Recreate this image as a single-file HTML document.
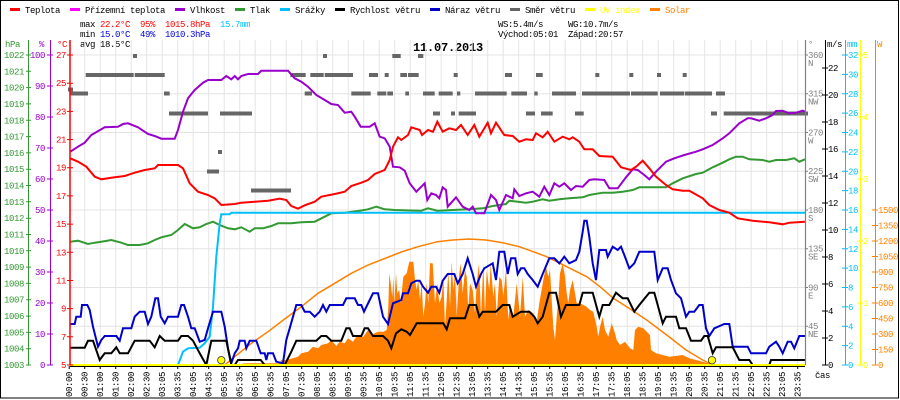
<!DOCTYPE html>
<html>
<head>
<meta charset="utf-8">
<style>
html,body{margin:0;padding:0;background:#fff;}
svg{display:block;}
text{font-family:"Liberation Mono","DejaVu Sans Mono",monospace;font-size:9px;letter-spacing:-0.4px;}
.t{font-family:"Liberation Mono","DejaVu Sans Mono",monospace;font-size:12px;font-weight:bold;letter-spacing:-0.2px;}
</style>
</head>
<body>
<svg width="900" height="400" viewBox="0 0 900 400" xmlns="http://www.w3.org/2000/svg">
<rect x="0" y="0" width="900" height="400" fill="#fff"/>
<rect x="0.5" y="0.5" width="898" height="397.5" fill="none" stroke="#000" stroke-width="1"/>

<!-- Legend -->
<g>
<rect x="10" y="8" width="10" height="3" fill="#ff0000"/><text x="25" y="13">Teplota</text>
<rect x="70" y="8" width="10" height="3" fill="#ff00ff"/><text x="85" y="13">Přízemní teplota</text>
<rect x="175" y="8" width="10" height="3" fill="#9900cc"/><text x="190" y="13">Vlhkost</text>
<rect x="235" y="8" width="10" height="3" fill="#339933"/><text x="250" y="13">Tlak</text>
<rect x="280" y="8" width="10" height="3" fill="#00bfff"/><text x="295" y="13">Srážky</text>
<rect x="335" y="8" width="10" height="3" fill="#000"/><text x="350" y="13">Rychlost větru</text>
<rect x="430" y="8" width="10" height="3" fill="#0000cc"/><text x="445" y="13">Náraz větru</text>
<rect x="510" y="8" width="10" height="3" fill="#666"/><text x="525" y="13">Směr větru</text>
<rect x="585" y="8" width="10" height="3" fill="#ffff00"/><text x="600" y="13" fill="#ffff00">UV index</text>
<rect x="650" y="8" width="10" height="3" fill="#ff8000"/><text x="665" y="13" fill="#ff8000">Solar</text>
</g>

<!-- Stats -->
<text x="80" y="27">max</text>
<text x="100" y="27" fill="#ff0000">22.2°C</text>
<text x="140" y="27" fill="#ff0000">95%</text>
<text x="165" y="27" fill="#ff0000">1015.8hPa</text>
<text x="220" y="27" fill="#00bfff">15.7mm</text>
<text x="80" y="37">min</text>
<text x="100" y="37" fill="#0000dd">15.0°C</text>
<text x="140" y="37" fill="#0000dd">49%</text>
<text x="165" y="37" fill="#0000dd">1010.3hPa</text>
<text x="80" y="47">avg</text>
<text x="100" y="47">18.5°C</text>
<text x="498" y="27">WS:5.4m/s</text>
<text x="568" y="27">WG:10.7m/s</text>
<text x="498" y="37">Východ:05:01</text>
<text x="568" y="37">Západ:20:57</text>
<text class="t" x="413" y="51">11.07.2013</text>

<!-- Grid -->
<path d="M84.7 40V365M100.2 40V365M115.7 40V365M131.2 40V365M146.7 40V365M162.2 40V365M177.7 40V365M193.2 40V365M208.7 40V365M224.2 40V365M239.7 40V365M255.2 40V365M270.7 40V365M286.2 40V365M301.7 40V365M317.2 40V365M332.7 40V365M348.2 40V365M363.7 40V365M379.2 40V365M394.7 40V365M410.2 40V365M425.7 40V365M441.2 40V365M456.7 40V365M472.2 40V365M487.7 40V365M503.2 40V365M518.7 40V365M534.2 40V365M549.7 40V365M565.2 40V365M580.7 40V365M596.2 40V365M611.7 40V365M627.2 40V365M642.7 40V365M658.2 40V365M673.7 40V365M689.2 40V365M704.7 40V365M720.2 40V365M735.7 40V365M751.2 40V365M766.7 40V365M782.2 40V365M797.7 40V365" stroke="#e4e4e4" stroke-width="1" fill="none"/>
<path d="M70 55H805M70 93.75H805M70 132.5H805M70 171.25H805M70 210H805M70 248.75H805M70 287.5H805M70 326.25H805" stroke="#e4e4e4" stroke-width="1" fill="none"/>

<!-- Wind direction blocks -->
<g fill="#666">
<rect x="133" y="54" width="4" height="4"/><rect x="323" y="54" width="4" height="4"/><rect x="392.3" y="54" width="8.4" height="4"/><rect x="418" y="54" width="5.3" height="4"/>
<rect x="85.7" y="73" width="48" height="4"/><rect x="134.7" y="73" width="30" height="4"/><rect x="290.3" y="73" width="15.4" height="4"/><rect x="310.3" y="73" width="13.4" height="4"/><rect x="324.7" y="73" width="28.3" height="4"/><rect x="369" y="73" width="9" height="4"/><rect x="384.7" y="73" width="4" height="4"/><rect x="400.3" y="73" width="6.7" height="4"/><rect x="408" y="73" width="10.7" height="4"/><rect x="453.7" y="73" width="4" height="4"/><rect x="505" y="73" width="7" height="4"/><rect x="536" y="73" width="6.7" height="4"/><rect x="595.3" y="73" width="4" height="4"/><rect x="629.3" y="73" width="4" height="4"/><rect x="657" y="73" width="4" height="4"/><rect x="682.7" y="73" width="4" height="4"/>
<rect x="68" y="87.5" width="5" height="4"/>
<rect x="70.3" y="91.5" width="17.7" height="4"/><rect x="164" y="91.5" width="5.7" height="4"/><rect x="304.7" y="91.5" width="7.3" height="4"/><rect x="351.3" y="91.5" width="19.4" height="4"/><rect x="377.3" y="91.5" width="9" height="4"/><rect x="387.3" y="91.5" width="5.7" height="4"/><rect x="405.3" y="91.5" width="3.7" height="4"/><rect x="423" y="91.5" width="11.7" height="4"/><rect x="438.7" y="91.5" width="14" height="4"/><rect x="457" y="91.5" width="3.3" height="4"/><rect x="475" y="91.5" width="31.7" height="4"/><rect x="511.3" y="91.5" width="15.7" height="4"/><rect x="534.3" y="91.5" width="3.4" height="4"/><rect x="552" y="91.5" width="24" height="4"/><rect x="582" y="91.5" width="48" height="4"/><rect x="631" y="91.5" width="26.7" height="4"/><rect x="660" y="91.5" width="24.3" height="4"/><rect x="685" y="91.5" width="27" height="4"/><rect x="716" y="91.5" width="9" height="4"/>
<rect x="169" y="111.5" width="39" height="4"/><rect x="220" y="111.5" width="32" height="4"/><rect x="433" y="111.5" width="7" height="4"/><rect x="451" y="111.5" width="4" height="4"/><rect x="458.7" y="111.5" width="17.3" height="4"/><rect x="526" y="111.5" width="9" height="4"/><rect x="541" y="111.5" width="11.7" height="4"/><rect x="575" y="111.5" width="8.7" height="4"/><rect x="711" y="111.5" width="6" height="4"/><rect x="723.7" y="111.5" width="84.3" height="4"/>
<rect x="218" y="150" width="4" height="4"/>
<rect x="207" y="169.5" width="12" height="4"/>
<rect x="251" y="188.5" width="40" height="4"/>
</g>

<!-- Solar area -->
<path fill="#ff8000" d="M236,365 L244.7,363.3 280,363.3 281,360 286.3,360 298,356.7 301.3,353.3 308,351.7 313,346.7 318,348.3 321.3,345 328,343.3 331.3,340 336.3,346 339.7,341.7 344.7,343.3 348,338.3 353,341.7 356.3,336.7 359.7,335 363,337.3 368,330 373,334 378,331.7 383.3,331.7 386.7,330 388.3,306.7 389.3,273.3 390.7,283.3 392.3,296.7 393.3,276.7 394.3,303.3 396,273.3 397.3,293.3 399.3,290 400.7,303.3 403.3,276.7 406.7,273.3 409.3,261.7 413.3,261.7 415,280 416.7,290 418.3,280 420,300 421.7,283.3 423.3,316.7 425,303.3 426.7,283.3 428.3,303.3 430,263.3 432.7,263.3 435,303.3 437.3,283.3 439.3,303.3 441.7,296.7 443.3,276.7 445,326.7 446.7,300 448.3,270 450,306.7 451.7,261.7 453.3,290 455,273.3 456.7,316.7 459.3,273.3 460.7,263.3 462.7,293.3 465,270 466.7,276.7 468.3,310 470,283.3 472.7,290 475,313.3 476.7,283.3 479,263.3 481,316.7 483.3,263.3 485,313.3 486.7,270 489.3,290 490.7,263.3 493.3,296.7 495,283.3 496.7,316.7 499.3,276.7 501.7,280 503.3,296.7 506,270 508.3,320 510,303.3 513.3,316.7 516.7,283.3 520,316.7 522.7,276.7 525,316.7 528.3,310 533.3,313.3 536.7,321.7 539.3,303.3 543.3,280 546,266.7 548.3,276.7 550,270 551.7,300 553.3,326.7 555,340 556.7,316.7 558.3,300 560,273.3 562.7,263.3 565,276.7 566.7,293.3 568.3,303.3 570,290 572.7,280 575,293.3 576.7,303.3 580,303.3 586.7,306.7 590,310 593.3,311.7 596.7,326.7 598.3,336.7 600,326.7 602.7,316.7 605,330 608.3,336.7 611.7,323.3 615,333.3 616.7,340 620,345 625,341.7 630,348.3 633.3,350 635,330 638.3,326.7 643.3,328.3 646.7,331.7 650,335 651,350 656,353.3 669.3,356.7 682.7,355 689.3,358.3 702.7,361.7 712.7,365 Z"/>

<!-- Theoretical solar -->
<polyline fill="none" stroke="#ff8000" stroke-width="1.5" points="224.7,365 234.7,356.7 251.3,343.3 268,331.7 284.7,319 301.3,306.7 318,293.3 334.7,283.3 351.3,273.3 368,265 384.7,258.5 401.3,252 418,246.7 437.3,241.7 452.7,240 469.3,239 486,240 502.7,242.7 519.3,246.7 536,252.7 546.7,256.7 566.7,266.7 586.7,276.7 600,286.7 613.3,298.3 626.7,306.7 646.7,320 669.3,337 686,350 702.7,360 712.7,365"/>

<!-- Pressure -->
<polyline fill="none" stroke="#339933" stroke-width="2" points="70.3,241.7 78,240.7 88,244 94.7,242.7 101.3,241.7 111.3,240 121.3,242.7 128,245 139.7,245 148,243.3 154.7,240 161.3,237.3 171.3,235 178,230 184.7,224 193,228.3 199.7,227.3 206.3,224 213,221.7 219.7,225 228,228.3 234.7,229.3 241.3,227.3 249.7,231.7 254.7,228.3 263,228.3 271.3,226 278,223.3 291.3,223.3 301.3,222.3 314.7,221.7 324.7,216.7 331.3,213.3 344.7,212.7 358,211 368,209.3 376.3,206.7 384.7,209.3 394.7,210 421.3,210.7 428,208.3 437.3,210.7 452.7,210 469.3,209.3 482.7,208.3 492.7,206 506,204 509.3,200.7 526,202.7 532.7,201.7 542.7,199.3 549.3,200.7 559.3,199.3 569.3,198.3 582.7,197.3 589.3,195 602.7,192.7 612.7,192.7 622.7,191.7 632.7,190 639.3,187.3 666,187.3 672.7,183.3 682.7,178.3 696,174 702.7,172.7 712.7,167.3 722.7,162.7 729.3,159.3 736,156.7 742.7,156.7 749.3,159.3 762.7,160 769.3,161.7 776,160 786,160 794.3,158.3 799.3,161.7 805,159.3"/>

<!-- Rain -->
<polyline fill="none" stroke="#00bfff" stroke-width="2" points="178,365 183,351.7 188,348.3 199.7,347.7 204.7,343.3 209.7,336.7 213,306.7 216.3,256.7 219.7,223.3 221.3,214.3 229.7,214.3 231.3,212.7 805,212.7"/>

<!-- Humidity -->
<polyline fill="none" stroke="#9900cc" stroke-width="2" points="70.3,151.7 78,146.7 84.7,142.7 91.3,135 104.7,127.3 118,126.7 123,124 128,123.3 138,127.3 148,134 154.7,136 161.3,138.7 174.7,138.7 178,130 183,111.7 188,98.3 194.7,90 203,82.7 208,80 221.3,80 226.3,76 231.3,79.3 234.7,76 238,79.3 241.3,76 248,74 258,74 261.3,70.7 288,70.7 294.7,78.3 301.3,81.7 308,86.7 316.3,95 324.7,100 331.3,104 338,105 344.7,112.7 351.3,111.7 354.7,116.7 360.7,126.7 369.7,126.7 374.7,123.3 379.7,136.7 384.7,138.3 389.7,146.7 393,166.7 399.7,167.3 404.7,170.7 409.7,183.3 416.3,191.7 421.3,186.7 424.7,183.3 427.3,200 431.3,193.3 436,195 439.3,198.3 442.7,187.3 446,190 447.7,206.7 456,197.3 462.7,206.7 469.3,210 472.7,206.7 476,213.3 484.3,213.3 491,195 496,200 499.3,210 506,195 512.7,198.3 514.3,189.3 519.3,196 526,193.3 532.7,191.7 539.3,196.7 544.3,186.7 549.3,195 554.3,183.3 559.3,186.7 564.3,183.3 571,190 576,186 582.7,186.7 589.3,180 594.3,179.3 604.3,180 609.3,188.3 617.7,188.3 626,177.3 632.7,169.3 637.7,170 644.3,175 649.3,179.3 656,171.7 666,161.7 674.3,158.3 684.3,155 696,151.7 702.7,149.3 712.7,145 722.7,138.3 729.3,133.3 739.3,123.3 747.7,118.3 751,118.3 759.3,120.7 766,118.3 772.7,115 776,111 782.7,110.7 789.3,113.3 796,112.7 802.7,110.7 805,111.7"/>

<!-- Temperature -->
<polyline fill="none" stroke="#ff0000" stroke-width="2" points="70.3,158.3 78,161.7 86.3,166.7 94.7,176.7 101.3,179.3 114.7,177.3 124.7,176 134.7,172.7 144.7,170 154.7,168.3 158,165 178,165 183,168.3 189.7,183.3 198,191.7 208,195 214.7,198.3 221.3,205 234.7,204 241.3,202.7 254.7,201.7 268,200.7 279.7,198.7 286.3,200 291.3,206 298,208.7 304.7,205.3 314.7,201.7 321.3,196.7 334.7,194 344.7,191.7 351.3,186 361.3,182.7 368,180 374.7,174 384.7,170 389.7,160 393,146.7 398,137.3 401.3,140 408,135 411.3,127.3 419.7,130 422,135 428,130 433,131.7 437.3,121.7 442.7,131.7 449.3,128.3 456,130 461,125 467.7,135 474.3,125 479.3,136.7 487.7,122.7 491,133.3 496,122.7 504.3,135 512.7,136 519.3,141.7 526,139.3 532.7,140 536,133.3 542.7,137.3 547.7,131.7 554.3,141.7 562.7,136.7 569.3,139.3 572.7,137.3 579.3,141.7 584.3,149.3 592.7,149.3 599.3,156 612.7,156.7 621,167.3 631,170 636,166.7 642.7,160.7 649.3,168.3 656,176.7 666,185 672.7,189.3 682.7,190.7 689.3,190.7 702.7,198.3 709.3,205 719.3,210 729.3,212.7 737.7,218.3 752.7,220.7 769.3,222.3 782.7,224.3 789.3,222.7 805,221.7"/>

<!-- Wind gust -->
<polyline fill="none" stroke="#0000cc" stroke-width="2" points="70.3,324 74.7,324 76.3,316.7 80.7,316.7 82,305 87.3,305 89.7,310 93,326.7 98,346.7 101.3,340 104.7,336 116.3,336 119.7,340.7 123,328.3 131.3,328.3 134.7,316.7 139.7,311.7 144.7,311.7 148,324 151.3,316.7 155.3,298.3 158,298.3 160.7,316.7 164.7,323.3 168,316.7 178,316.7 181.3,305 184,305 188,316.7 191.3,328.3 194.7,328.3 199.7,341.7 204.7,340 208,328.3 213,311.7 221.3,311.7 224.7,326.7 228,348.3 231.3,363.3 234.7,353.3 238,348.3 239.7,340.7 244.7,340.7 246.3,348.3 249.7,340.7 256.3,340.7 260.7,353.3 264.7,353.3 266.3,360 268,353.3 273,353.3 276.3,361.7 283,363.3 286.3,340 289.7,328.3 296.3,305 301.3,305 304.7,311.7 309.7,311.7 314.7,316.7 319.7,311.7 323,305 326.3,311.7 329.7,305 343,305 346.3,298.3 354.7,298.3 358,305 361.3,305 364,311.7 369.7,300 373,293.3 378,293.3 383,316.7 388,324 393,303.3 401.3,300 403,293.3 408,293.3 411.3,283.3 416.3,280.7 419.7,280.7 423,286.7 428,292.7 431.3,286.7 436,286.7 439.3,292.7 442.7,280.7 447.7,274 454.3,274 457.7,283.3 462.7,274 467.7,258.3 472.7,274 476,286.7 481,274 484.3,268.3 492.7,263.3 496,280 499.3,251.7 504.3,251.7 507.7,274 511,258.3 515.3,258.3 517.7,274 521,268.3 524.3,268.3 527.7,274 532.7,280 537.7,286.7 542.7,274 549.3,258.3 554.3,258.3 559.3,263.3 564.3,256.7 569.3,263.3 576,260 579.3,251.7 582.7,231.7 584.3,220.7 586.7,220.7 589.3,236.7 592.7,263.3 596,280 599.3,250 606,250 607.7,256.7 612.7,246.7 617.7,250 621,246.7 624.3,255 629.3,268.3 634.3,263.3 639.3,251.7 654.3,251.7 657.7,280 662.7,268.3 667.7,268.3 671,280 676,293.3 681,298.3 686,316.7 689.3,311.7 694.3,311.7 699.3,305 702.7,305 706,328.3 709.3,336 714.3,328.3 724.3,324 729.3,324 732.7,346.7 747.7,346.7 751,353.3 766,353.3 769.3,346.7 776,341.7 779.3,346.7 782.7,353.3 787.7,341.7 791,341.7 794.3,348.3 799.3,336 805,336"/>

<!-- Wind speed -->
<polyline fill="none" stroke="#000" stroke-width="2" points="70.3,347.7 84.7,347.7 88,340.7 93,340.7 99.7,360 104.7,353.3 111.3,353.3 116.3,347.3 119.7,353.3 128,353.3 134.7,340.7 149.7,340.7 154.7,347.3 159.7,336 164.7,340.7 178,340.7 181.3,336 188,336 193,340.7 199.7,353.3 206.3,365 211.3,340.7 226.3,340.7 231.3,365 234.7,365 238,360 260.7,360 264.7,365 284.7,365 291.3,351.7 296.3,340.7 316.3,340.7 321.3,336 326.3,336 331.3,340.7 341.3,340.7 346.3,328.3 349.7,328.3 353,336 361.3,336 364.7,328.3 368,328.3 373,336 383,336 388,340.7 391.3,348.3 396,333.3 401.3,329.3 406.7,331.7 410,335 413.3,329.3 416.7,323.3 436,323.3 443.3,323.3 446.7,329.3 450,318.3 465,318.3 469.3,305 476,305 479.3,316.7 482.7,311.7 496,311.7 502.7,305 509.3,305 512.7,316.7 521,311.7 529.3,311.7 534.3,316.7 537.7,323.3 542.7,316.7 549.3,292.7 556,292.7 561,316.7 566,305 579.3,305 582.7,292.7 592.7,292.7 599.3,316.7 602.7,305 609.3,305 616,292.7 622.7,298.3 627.7,298.3 634.3,311.7 639.3,305 649.3,292.7 654.3,292.7 657.7,305 662.7,323.3 666,316.7 676,316.7 679.3,328.3 686,328.3 691,340.7 701,340.7 704.3,336 707.7,336 712.7,353.3 716,347.3 732.7,347.3 739.3,360 749.3,360 752.7,365 769.3,365 771,360 805,360"/>

<!-- UV baseline / x axis -->
<line x1="70" y1="366.5" x2="805" y2="366.5" stroke="#000" stroke-width="1"/>
<line x1="70" y1="365" x2="805" y2="365" stroke="#ffff00" stroke-width="2"/>
<circle cx="221.3" cy="360.2" r="3.7" fill="#ffff00" stroke="#333" stroke-width="0.8"/>
<circle cx="712" cy="360.2" r="3.7" fill="#ffff00" stroke="#333" stroke-width="0.8"/>

<!-- x ticks -->
<path d="M69.2 366V369M84.7 366V369M100.2 366V369M115.7 366V369M131.2 366V369M146.7 366V369M162.2 366V369M177.7 366V369M193.2 366V369M208.7 366V369M224.2 366V369M239.7 366V369M255.2 366V369M270.7 366V369M286.2 366V369M301.7 366V369M317.2 366V369M332.7 366V369M348.2 366V369M363.7 366V369M379.2 366V369M394.7 366V369M410.2 366V369M425.7 366V369M441.2 366V369M456.7 366V369M472.2 366V369M487.7 366V369M503.2 366V369M518.7 366V369M534.2 366V369M549.7 366V369M565.2 366V369M580.7 366V369M596.2 366V369M611.7 366V369M627.2 366V369M642.7 366V369M658.2 366V369M673.7 366V369M689.2 366V369M704.7 366V369M720.2 366V369M735.7 366V369M751.2 366V369M766.7 366V369M782.2 366V369M797.7 366V369" stroke="#000" stroke-width="1"/>

<!-- x labels -->
<g>
<text transform="translate(72.2,397) rotate(-90)">00:00</text>
<text transform="translate(87.7,397) rotate(-90)">00:30</text>
<text transform="translate(103.2,397) rotate(-90)">01:00</text>
<text transform="translate(118.7,397) rotate(-90)">01:30</text>
<text transform="translate(134.2,397) rotate(-90)">02:00</text>
<text transform="translate(149.7,397) rotate(-90)">02:30</text>
<text transform="translate(165.2,397) rotate(-90)">03:05</text>
<text transform="translate(180.7,397) rotate(-90)">03:35</text>
<text transform="translate(196.2,397) rotate(-90)">04:05</text>
<text transform="translate(211.7,397) rotate(-90)">04:35</text>
<text transform="translate(227.2,397) rotate(-90)">05:05</text>
<text transform="translate(242.7,397) rotate(-90)">05:35</text>
<text transform="translate(258.2,397) rotate(-90)">06:05</text>
<text transform="translate(273.7,397) rotate(-90)">06:35</text>
<text transform="translate(289.2,397) rotate(-90)">07:05</text>
<text transform="translate(304.7,397) rotate(-90)">07:35</text>
<text transform="translate(320.2,397) rotate(-90)">08:05</text>
<text transform="translate(335.7,397) rotate(-90)">08:35</text>
<text transform="translate(351.2,397) rotate(-90)">09:05</text>
<text transform="translate(366.7,397) rotate(-90)">09:35</text>
<text transform="translate(382.2,397) rotate(-90)">10:05</text>
<text transform="translate(397.7,397) rotate(-90)">10:35</text>
<text transform="translate(413.2,397) rotate(-90)">11:05</text>
<text transform="translate(428.7,397) rotate(-90)">11:35</text>
<text transform="translate(444.2,397) rotate(-90)">12:05</text>
<text transform="translate(459.7,397) rotate(-90)">12:35</text>
<text transform="translate(475.2,397) rotate(-90)">13:05</text>
<text transform="translate(490.7,397) rotate(-90)">13:35</text>
<text transform="translate(506.2,397) rotate(-90)">14:05</text>
<text transform="translate(521.7,397) rotate(-90)">14:35</text>
<text transform="translate(537.2,397) rotate(-90)">15:05</text>
<text transform="translate(552.7,397) rotate(-90)">15:35</text>
<text transform="translate(568.2,397) rotate(-90)">16:05</text>
<text transform="translate(583.7,397) rotate(-90)">16:35</text>
<text transform="translate(599.2,397) rotate(-90)">17:05</text>
<text transform="translate(614.7,397) rotate(-90)">17:35</text>
<text transform="translate(630.2,397) rotate(-90)">18:05</text>
<text transform="translate(645.7,397) rotate(-90)">18:35</text>
<text transform="translate(661.2,397) rotate(-90)">19:05</text>
<text transform="translate(676.7,397) rotate(-90)">19:35</text>
<text transform="translate(692.2,397) rotate(-90)">20:05</text>
<text transform="translate(707.7,397) rotate(-90)">20:35</text>
<text transform="translate(723.2,397) rotate(-90)">21:05</text>
<text transform="translate(738.7,397) rotate(-90)">21:35</text>
<text transform="translate(754.2,397) rotate(-90)">22:05</text>
<text transform="translate(769.7,397) rotate(-90)">22:35</text>
<text transform="translate(785.2,397) rotate(-90)">23:05</text>
<text transform="translate(800.7,397) rotate(-90)">23:35</text>
</g>
<text x="815" y="378">čas</text>

<!-- Left axes -->
<line x1="28.5" y1="40" x2="28.5" y2="365" stroke="#339933" stroke-width="1"/>
<line x1="50.5" y1="40" x2="50.5" y2="365" stroke="#9900cc" stroke-width="1"/>
<line x1="70" y1="40" x2="70" y2="365" stroke="#ff0000" stroke-width="1.5"/>
<text x="5" y="47" fill="#339933">hPa</text>
<text x="39" y="47" fill="#9900cc">%</text>
<text x="57" y="47" fill="#ff0000">°C</text>

<path stroke="#339933" stroke-width="1" d="M26 55H31M26 71.3H31M26 87.6H31M26 103.9H31M26 120.3H31M26 136.6H31M26 152.9H31M26 169.2H31M26 185.5H31M26 201.8H31M26 218.2H31M26 234.5H31M26 250.8H31M26 267.1H31M26 283.4H31M26 299.7H31M26 316.1H31M26 332.4H31M26 348.7H31M26 365H31"/>
<g fill="#339933" text-anchor="end">
<text x="24" y="58">1022</text><text x="24" y="74.3">1021</text><text x="24" y="90.6">1020</text><text x="24" y="106.9">1019</text><text x="24" y="123.3">1018</text><text x="24" y="139.6">1017</text><text x="24" y="155.9">1016</text><text x="24" y="172.2">1015</text><text x="24" y="188.5">1014</text><text x="24" y="204.8">1013</text><text x="24" y="221.2">1012</text><text x="24" y="237.5">1011</text><text x="24" y="253.8">1010</text><text x="24" y="270.1">1009</text><text x="24" y="286.4">1008</text><text x="24" y="302.7">1007</text><text x="24" y="319.1">1006</text><text x="24" y="335.4">1005</text><text x="24" y="351.7">1004</text><text x="24" y="368">1003</text>
</g>

<path stroke="#9900cc" stroke-width="1" d="M47 55H53M47 86H53M47 117H53M47 148H53M47 179H53M47 210H53M47 241H53M47 272H53M47 303H53M47 334H53M47 365H53"/>
<g fill="#9900cc" text-anchor="end">
<text x="45" y="58">100</text><text x="45" y="89">90</text><text x="45" y="120">80</text><text x="45" y="151">70</text><text x="45" y="182">60</text><text x="45" y="213">50</text><text x="45" y="244">40</text><text x="45" y="275">30</text><text x="45" y="306">20</text><text x="45" y="337">10</text><text x="45" y="368">0</text>
</g>

<path stroke="#ff0000" stroke-width="1" d="M67 55H73M67 83.2H73M67 111.4H73M67 139.5H73M67 167.7H73M67 195.9H73M67 224.1H73M67 252.3H73M67 280.5H73M67 308.6H73M67 336.8H73M67 365H73"/>
<g fill="#ff0000" text-anchor="end">
<text x="66" y="58">27</text><text x="66" y="86.2">25</text><text x="66" y="114.4">23</text><text x="66" y="142.5">21</text><text x="66" y="170.7">19</text><text x="66" y="198.9">17</text><text x="66" y="227.1">15</text><text x="66" y="255.3">13</text><text x="66" y="283.5">11</text><text x="66" y="311.6">9</text><text x="66" y="339.8">7</text><text x="66" y="368">5</text>
</g>

<!-- Right axes -->
<line x1="805.5" y1="40" x2="805.5" y2="365" stroke="#808080" stroke-width="1.2"/>
<line x1="825.5" y1="40" x2="825.5" y2="365" stroke="#000" stroke-width="1"/>
<line x1="845.5" y1="40" x2="845.5" y2="365" stroke="#00bfff" stroke-width="1"/>
<line x1="860.5" y1="40" x2="860.5" y2="365" stroke="#ffff00" stroke-width="1"/>
<line x1="875.5" y1="40" x2="875.5" y2="365" stroke="#ff8000" stroke-width="1"/>
<text x="808" y="47" fill="#808080">°</text>
<text x="827" y="47">m/s</text>
<text x="847" y="47" fill="#00bfff">mm</text>
<text x="877" y="47" fill="#ff8000">W</text>

<path stroke="#808080" stroke-width="1" d="M805 55H808M805 93.75H808M805 132.5H808M805 171.25H808M805 210H808M805 248.75H808M805 287.5H808M805 326.25H808"/>
<g fill="#808080">
<text x="808" y="58">360</text><text x="808" y="66">N</text>
<text x="808" y="96.7">315</text><text x="808" y="104.7">NW</text>
<text x="808" y="135.5">270</text><text x="808" y="143.5">W</text>
<text x="808" y="174.2">225</text><text x="808" y="182.2">SW</text>
<text x="808" y="213">180</text><text x="808" y="221">S</text>
<text x="808" y="251.7">135</text><text x="808" y="259.7">SE</text>
<text x="808" y="290.5">90</text><text x="808" y="298.5">E</text>
<text x="808" y="329.2">45</text><text x="808" y="337.2">NE</text>
</g>

<path stroke="#000" stroke-width="1" d="M822 365H828M822 338H828M822 311H828M822 284H828M822 257H828M822 230H828M822 203H828M822 176H828M822 149H828M822 122H828M822 95H828M822 68H828"/>
<g fill="#000">
<text x="828" y="368">0</text><text x="828" y="341">2</text><text x="828" y="314">4</text><text x="828" y="287">6</text><text x="828" y="260">8</text><text x="828" y="233">10</text><text x="828" y="206">12</text><text x="828" y="179">14</text><text x="828" y="152">16</text><text x="828" y="125">18</text><text x="828" y="98">20</text><text x="828" y="71">22</text>
</g>

<path stroke="#00bfff" stroke-width="1" d="M842 365H848M842 345.6H848M842 326.3H848M842 306.9H848M842 287.5H848M842 268.1H848M842 248.8H848M842 229.4H848M842 210H848M842 190.6H848M842 171.3H848M842 151.9H848M842 132.5H848M842 113.1H848M842 93.8H848M842 74.4H848M842 55H848"/>
<g fill="#00bfff">
<text x="848" y="368">0</text><text x="848" y="348.6">2</text><text x="848" y="329.3">4</text><text x="848" y="309.9">6</text><text x="848" y="290.5">8</text><text x="848" y="271.1">10</text><text x="848" y="251.8">12</text><text x="848" y="232.4">14</text><text x="848" y="213">16</text><text x="848" y="193.6">18</text><text x="848" y="174.3">20</text><text x="848" y="154.9">22</text><text x="848" y="135.5">24</text><text x="848" y="116.1">26</text><text x="848" y="96.8">28</text><text x="848" y="77.4">30</text><text x="848" y="58">32</text>
</g>

<path stroke="#ffff00" stroke-width="1" d="M857 365H863M857 303H863M857 241H863M857 179H863M857 117H863M857 55H863"/>
<g fill="#ffff00">
<text x="863" y="368">0</text><text x="863" y="306">1</text><text x="863" y="244">2</text><text x="863" y="182">3</text><text x="863" y="120">4</text><text x="863" y="58">5</text>
</g>

<path stroke="#ff8000" stroke-width="1" d="M872 365H878M872 349.5H878M872 334H878M872 318.5H878M872 303H878M872 287.5H878M872 272H878M872 256.5H878M872 241H878M872 225.5H878M872 210H878"/>
<g fill="#ff8000">
<text x="878" y="368">0</text><text x="878" y="352.5">150</text><text x="878" y="337">300</text><text x="878" y="321.5">450</text><text x="878" y="306">600</text><text x="878" y="290.5">750</text><text x="878" y="275">900</text><text x="878" y="259.5">1050</text><text x="878" y="244">1200</text><text x="878" y="228.5">1350</text><text x="878" y="213">1500</text>
</g>
</svg>
</body>
</html>
